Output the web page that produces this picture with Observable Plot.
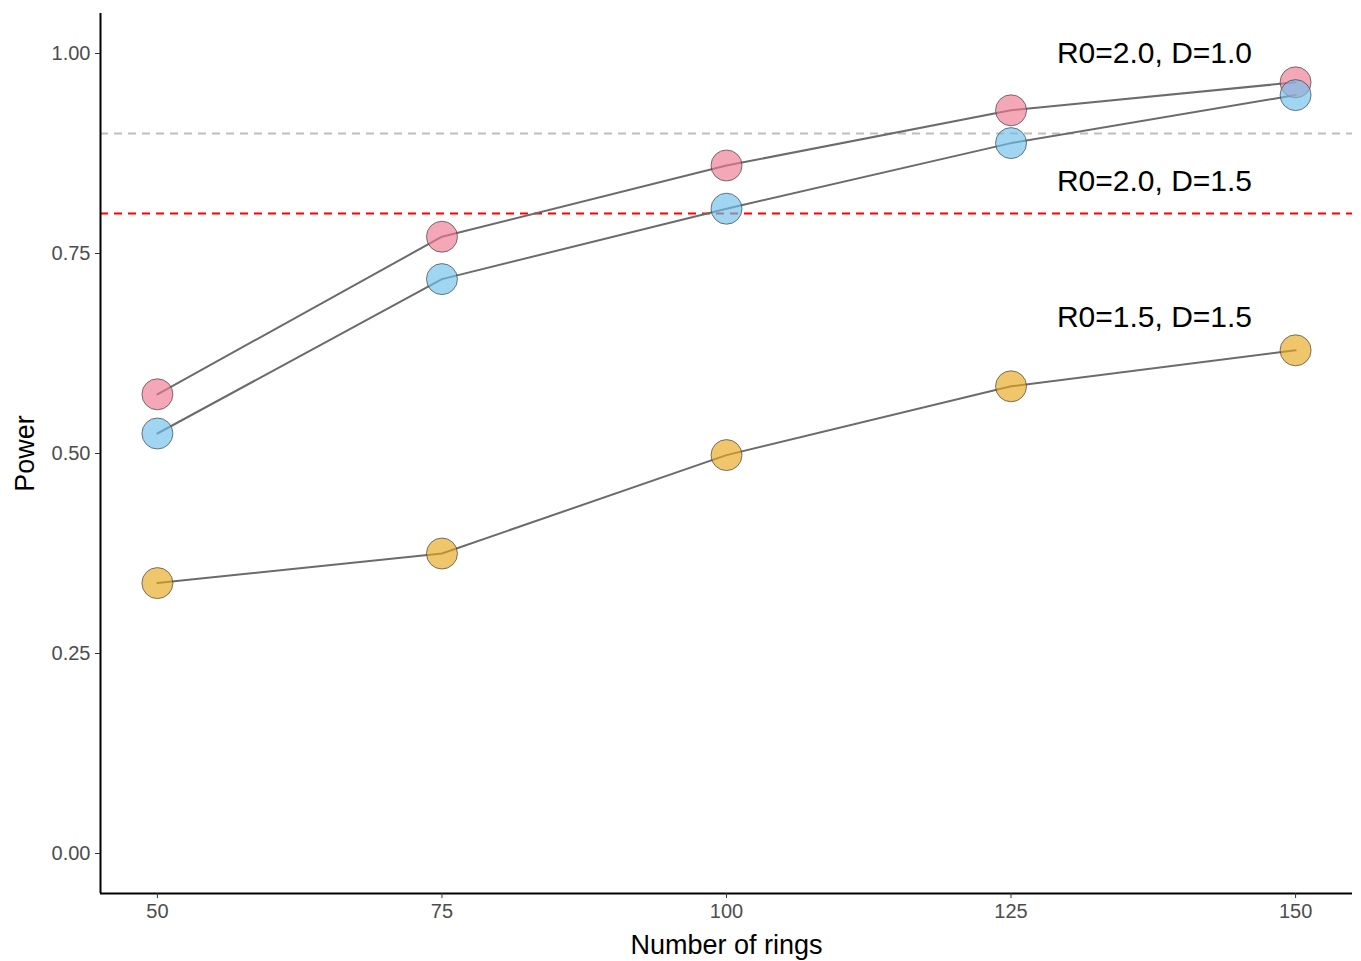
<!DOCTYPE html>
<html>
<head>
<meta charset="utf-8">
<script src="https://cdn.jsdelivr.net/npm/d3@7"></script>
<script src="https://cdn.jsdelivr.net/npm/@observablehq/plot@0.6"></script>
<style>
  html, body { margin: 0; padding: 0; background: #fff; }
  #chart { width: 1361px; height: 961px; }
  svg { font-family: "Liberation Sans", Arial, sans-serif; }
</style>
</head>
<body>
<div id="chart"></div>
<script>
const rings = [50, 75, 100, 125, 150];
const seriesNames = ["R0=2.0, D=1.0", "R0=2.0, D=1.5", "R0=1.5, D=1.5"];
const powerR20D10 = [0.574, 0.771, 0.860, 0.929, 0.964];
const powerR20D15 = [0.525, 0.718, 0.806, 0.888, 0.948];
const powerR15D15 = [0.338, 0.375, 0.498, 0.584, 0.629];
const seriesColors = ["#EE7A90", "#6EC0EC", "#E8A81E"];
const labelX = 137.6;
const labelY = [1.0, 0.84, 0.67];
const refLines = [0.9, 0.8];
const refColors = ["#BEBEBE", "#FF0000"];
const xTicks = [50, 75, 100, 125, 150];
const yTicks = [0, 0.25, 0.5, 0.75, 1.0];

const allSeries = [powerR20D10, powerR20D15, powerR15D15];
const data = [];
allSeries.forEach((vals, s) => vals.forEach((v, i) => data.push({series: seriesNames[s], rings: rings[i], power: v})));
const labels = seriesNames.map((n, i) => ({series: n, x: labelX, y: labelY[i]}));
const refs = refLines.map((v, i) => ({y: v, color: refColors[i]}));

const xDomain = [45, 155];
const yDomain = [-0.05, 1.05];

const chart = Plot.plot({
  width: 1361,
  height: 961,
  marginLeft: 100,
  marginRight: 9,
  marginTop: 13,
  marginBottom: 68,
  style: {fontFamily: '"Liberation Sans", Arial, sans-serif', background: "white"},
  x: {domain: xDomain, ticks: xTicks},
  y: {domain: yDomain, ticks: yTicks},
  color: {domain: seriesNames, range: seriesColors},
  marks: [
    Plot.ruleY(refs, {y: "y", stroke: "color", strokeWidth: 2, strokeDasharray: "8,6"}),
    Plot.line(data, {x: "rings", y: "power", z: "series", stroke: "#6B6B6B", strokeWidth: 2}),
    Plot.dot(data, {x: "rings", y: "power", r: 15.5, fill: "series", fillOpacity: 0.65, stroke: "#333", strokeWidth: 0.8, strokeOpacity: 0.8}),
    Plot.text(labels, {x: "x", y: "y", text: "series", fontSize: 30, fill: "black"}),
    Plot.ruleX([xDomain[0]], {stroke: "black", strokeWidth: 2}),
    Plot.ruleY([yDomain[0]], {stroke: "black", strokeWidth: 2}),
    Plot.axisX({ticks: xTicks, tickFormat: d => String(d), tickSize: 5, tickPadding: 5, fontSize: 20, color: "#4D4D4D", stroke: "#333",
      label: "Number of rings", labelAnchor: "center", labelArrow: "none", labelOffset: 60}),
    Plot.axisY({ticks: yTicks, tickFormat: d => d.toFixed(2), tickSize: 5, tickPadding: 5, fontSize: 20, color: "#4D4D4D", stroke: "#333",
      label: "Power", labelAnchor: "center", labelArrow: "none", labelOffset: 86})
  ]
});
chart.querySelectorAll('[aria-label="x-axis tick label"], [aria-label="y-axis tick label"]').forEach(g => {
  g.setAttribute("font-size", "20");
  g.style.fontSize = "20px";
});
chart.querySelectorAll('[aria-label="x-axis label"], [aria-label="y-axis label"]').forEach(g => {
  g.setAttribute("font-size", "27");
  g.style.fontSize = "27px";
  g.setAttribute("fill", "black");
  g.querySelectorAll("text").forEach(t => { t.style.fontSize = "27px"; t.style.fill = "black"; });
});
document.getElementById("chart").appendChild(chart);
</script>
</body>
</html>
